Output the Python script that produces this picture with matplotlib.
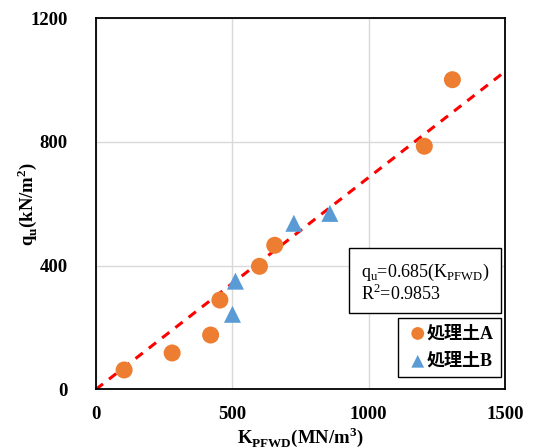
import numpy as np
import matplotlib.pyplot as plt
from matplotlib.patches import Rectangle

# Data
k_a = [104, 280, 421, 455, 600, 656, 1204, 1307]
q_a = [63, 118, 176, 289, 398, 466, 786, 1001]
k_b = [501, 512, 726, 858]
q_b = [243, 350, 537, 569]
slope = 0.685
r2 = 0.9853
xticks = [0, 500, 1000, 1500]
yticks = [0, 400, 800, 1200]

plt.rcParams['font.family'] = ['Liberation Serif', 'Noto Sans CJK JP']
plt.rcParams['mathtext.fontset'] = 'custom'
plt.rcParams['mathtext.rm'] = 'Liberation Serif'

fig = plt.figure(figsize=(5.33, 4.48), dpi=100)
ax = fig.add_axes([0.1796, 0.1306, 0.768, 0.829])

ax.set_axisbelow(True)
ax.grid(True, color='#d9d9d9', linewidth=1)

xl = np.array([0, 1500])
ax.plot(xl, slope * xl, color='red', linestyle=(0, (3, 2.5)), linewidth=2.2, zorder=2)

ax.scatter(k_a, q_a, s=150, color='#ED7D31', marker='o', edgecolors='none', zorder=3,
           label='処理土A')
ax.scatter(k_b, q_b, s=150, color='#5B9BD5', marker='^', edgecolors='none', zorder=3,
           label='処理土B')

ax.set_xlim(0, 1500)
ax.set_ylim(0, 1200)
ax.set_xticks(xticks)
ax.set_yticks(yticks)
ax.tick_params(length=0, labelsize=13.5)
ax.tick_params(axis='x', pad=12)
ax.tick_params(axis='y', pad=20)
for lab in ax.get_xticklabels() + ax.get_yticklabels():
    lab.set_fontweight('bold')
for s in ax.spines.values():
    s.set_linewidth(1.3)
    s.set_color('black')

ax.set_xlabel(r'K$_{\mathregular{PFWD}}$(MN/m$^{\mathregular{3}}$)', fontsize=13.5,
              fontweight='bold', va='center')
ax.xaxis.set_label_coords(0.5, -0.128)
ax.set_ylabel(r'q$_{\mathregular{u}}$(kN/m$^{\mathregular{2}}$)', fontsize=13.5,
              fontweight='bold', va='center')
ax.yaxis.set_label_coords(-0.168, 0.5)

# equation box
ax.add_patch(Rectangle((0.618, 0.206), 0.372, 0.175, transform=ax.transAxes,
                       facecolor='white', edgecolor='black', linewidth=1, zorder=4))
ax.text(0.648, 0.316, r'q$_{\mathregular{u}}$=0.685(K$_{\mathregular{PFWD}}$)',
        transform=ax.transAxes, fontsize=13, va='center', ha='left', zorder=5)
ax.text(0.648, 0.258, r'R$^{\mathregular{2}}$=%.4f' % r2,
        transform=ax.transAxes, fontsize=13, va='center', ha='left', zorder=5)

leg = ax.legend(loc='lower right', bbox_to_anchor=(0.99, 0.033),
                prop={'weight': 'bold', 'size': 13}, fancybox=False, edgecolor='black',
                framealpha=1, handletextpad=-0.2, handlelength=1.4, borderpad=0.4,
                labelspacing=0.6, markerscale=0.75, borderaxespad=0)
leg.get_frame().set_linewidth(1)

fig.savefig('out.png', dpi=100)
